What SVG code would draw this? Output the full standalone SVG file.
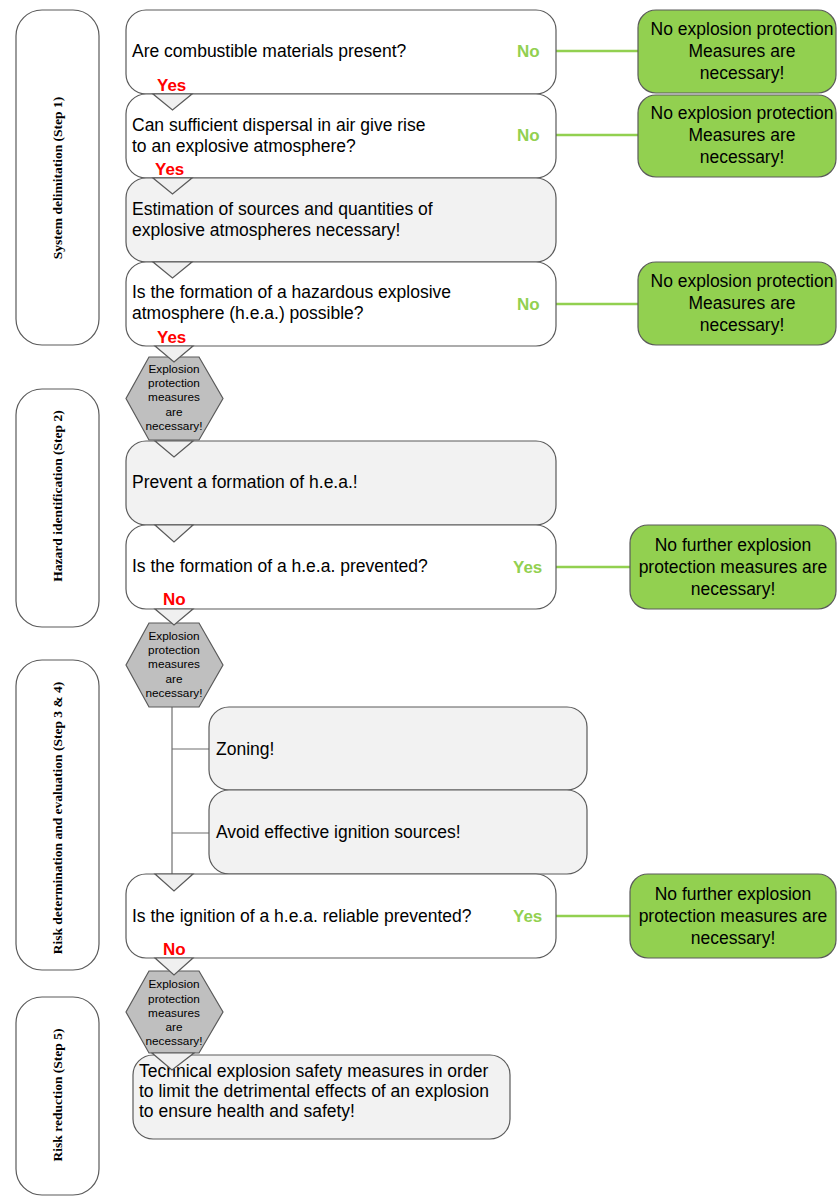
<svg xmlns="http://www.w3.org/2000/svg" width="837" height="1196" viewBox="0 0 837 1196">
<style>
.box{stroke:#5a5a5a;stroke-width:1.2;}
.w{fill:#ffffff;}
.g{fill:#f2f2f2;}
.grn{fill:#92d050;stroke:#5a5a5a;stroke-width:1.2;}
.side{fill:#ffffff;stroke:#5a5a5a;stroke-width:1.2;}
.hex{fill:#bfbfbf;stroke:#5a5a5a;stroke-width:1.2;}
.tri{fill:#f0f0f0;stroke:#5a5a5a;stroke-width:1.2;stroke-linejoin:miter;}
.t{font-family:"Liberation Sans",Arial,sans-serif;font-size:17.5px;fill:#000;}
.tc{font-family:"Liberation Sans",Arial,sans-serif;font-size:17.5px;fill:#000;text-anchor:middle;}
.hx{font-family:"Liberation Sans",Arial,sans-serif;font-size:11.8px;fill:#000;text-anchor:middle;}
.st{font-family:"Liberation Serif","Times New Roman",serif;font-size:13.5px;font-weight:bold;fill:#000;text-anchor:middle;}
.red{font-family:"Liberation Sans",Arial,sans-serif;font-size:17px;font-weight:bold;fill:#ff0000;}
.lg{font-family:"Liberation Sans",Arial,sans-serif;font-size:17px;font-weight:bold;fill:#92d050;}
.gl{stroke:#92d050;stroke-width:2.5;fill:none;}
.cl{stroke:#6e6e6e;stroke-width:1.2;fill:none;}
</style>

<!-- side labels -->
<g id="side1"><rect class="side" x="16" y="10" width="83" height="335" rx="26"/><text class="st" transform="translate(62,178) rotate(-90)">System delimitation (Step 1)</text></g>
<g id="side2"><rect class="side" x="16" y="389" width="83" height="238" rx="26"/><text class="st" transform="translate(62,496) rotate(-90)">Hazard identification (Step 2)</text></g>
<g id="side3"><rect class="side" x="16" y="660" width="83" height="310" rx="26"/><text class="st" transform="translate(62,818) rotate(-90)">Risk determination and evaluation (Step 3 &amp; 4)</text></g>
<g id="side4"><rect class="side" x="16" y="997" width="83" height="198" rx="26"/><text class="st" transform="translate(62,1095) rotate(-90)">Risk reduction (Step 5)</text></g>

<!-- connectors (lines) -->
<g id="connectors">
<line class="gl" x1="556" y1="51" x2="638" y2="51"/>
<line class="gl" x1="556" y1="135" x2="638" y2="135"/>
<line class="gl" x1="556" y1="304" x2="638" y2="304"/>
<line class="gl" x1="556" y1="567" x2="630" y2="567"/>
<line class="gl" x1="556" y1="916" x2="630" y2="916"/>
<line class="cl" x1="172" y1="707" x2="172" y2="874"/>
<line class="cl" x1="172" y1="749" x2="209" y2="749"/>
<line class="cl" x1="172" y1="833" x2="209" y2="833"/>
</g>

<!-- main nodes -->
<g id="q1"><rect class="box w" x="126" y="10" width="430" height="84" rx="20"/><text class="t" x="132" y="57">Are combustible materials present?</text></g>
<g id="q2"><rect class="box w" x="126" y="94" width="430" height="84" rx="20"/><text class="t" x="132" y="131">Can sufficient dispersal in air give rise</text><text class="t" x="132" y="152">to an explosive atmosphere?</text></g>
<g id="est"><rect class="box g" x="126" y="178" width="430" height="84" rx="20"/><text class="t" x="132" y="215">Estimation of sources and quantities of</text><text class="t" x="132" y="236">explosive atmospheres necessary!</text></g>
<g id="q3"><rect class="box w" x="126" y="262" width="430" height="84" rx="20"/><text class="t" x="132" y="298">Is the formation of a hazardous explosive</text><text class="t" x="132" y="319">atmosphere (h.e.a.) possible?</text></g>

<g id="hex1"><polygon class="hex" points="149,357 199,357 223,398.5 199,440 149,440 126,398.5"/>
<text class="hx" x="174" y="373">Explosion</text><text class="hx" x="174" y="387">protection</text><text class="hx" x="174" y="401">measures</text><text class="hx" x="174" y="416">are</text><text class="hx" x="174" y="430">necessary!</text></g>

<g id="prevent"><rect class="box g" x="126" y="441" width="430" height="84" rx="20"/><text class="t" x="132" y="488">Prevent a formation of h.e.a.!</text></g>
<g id="q4"><rect class="box w" x="126" y="525" width="430" height="84" rx="20"/><text class="t" x="132" y="572">Is the formation of a h.e.a. prevented?</text></g>

<g id="hex2"><polygon class="hex" points="149,623 199,623 223,665 199,707 149,707 126,665"/>
<text class="hx" x="174" y="640">Explosion</text><text class="hx" x="174" y="654">protection</text><text class="hx" x="174" y="668">measures</text><text class="hx" x="174" y="683">are</text><text class="hx" x="174" y="697">necessary!</text></g>

<g id="zoning"><rect class="box g" x="209" y="707" width="378" height="83" rx="20"/><text class="t" x="216" y="755">Zoning!</text></g>
<g id="avoid"><rect class="box g" x="209" y="790" width="378" height="84" rx="20"/><text class="t" x="216" y="838">Avoid effective ignition sources!</text></g>

<g id="q5"><rect class="box w" x="126" y="874" width="430" height="84" rx="20"/><text class="t" x="132" y="922">Is the ignition of a h.e.a. reliable prevented?</text></g>

<g id="hex3"><polygon class="hex" points="149,971 199,971 223,1012 199,1053 149,1053 126,1012"/>
<text class="hx" x="174" y="988">Explosion</text><text class="hx" x="174" y="1003">protection</text><text class="hx" x="174" y="1017">measures</text><text class="hx" x="174" y="1031">are</text><text class="hx" x="174" y="1045">necessary!</text></g>

<g id="final"><rect class="box g" x="133" y="1055" width="377" height="84" rx="20"/><text class="t" x="139" y="1077">Technical explosion safety measures in order</text><text class="t" x="139" y="1097">to limit the detrimental effects of an explosion</text><text class="t" x="139" y="1117">to ensure health and safety!</text></g>

<!-- green outcome nodes -->
<g id="out1"><rect class="grn" x="638" y="10" width="198" height="83" rx="18"/><text class="tc" x="742" y="35">No explosion protection</text><text class="tc" x="742" y="57">Measures are</text><text class="tc" x="742" y="79">necessary!</text></g>
<g id="out2"><rect class="grn" x="638" y="95" width="198" height="82" rx="18"/><text class="tc" x="742" y="119">No explosion protection</text><text class="tc" x="742" y="141">Measures are</text><text class="tc" x="742" y="163">necessary!</text></g>
<g id="out3"><rect class="grn" x="638" y="262" width="198" height="83" rx="18"/><text class="tc" x="742" y="287">No explosion protection</text><text class="tc" x="742" y="309">Measures are</text><text class="tc" x="742" y="331">necessary!</text></g>
<g id="out4"><rect class="grn" x="630" y="525" width="206" height="84" rx="18"/><text class="tc" x="733" y="551">No further explosion</text><text class="tc" x="733" y="573">protection measures are</text><text class="tc" x="733" y="595">necessary!</text></g>
<g id="out5"><rect class="grn" x="630" y="874" width="206" height="84" rx="18"/><text class="tc" x="733" y="900">No further explosion</text><text class="tc" x="733" y="922">protection measures are</text><text class="tc" x="733" y="944">necessary!</text></g>

<!-- flow arrow triangles and labels -->
<g id="arrows">
<polygon class="tri" points="153,94 192,94 172.5,110"/>
<polygon class="tri" points="153,178 192,178 172.5,194"/>
<polygon class="tri" points="153,262 192,262 172.5,278"/>
<polygon class="tri" points="155,346 193,346 174,362"/>
<polygon class="tri" points="155,441 193,441 174,457"/>
<polygon class="tri" points="155,525 193,525 174,542"/>
<polygon class="tri" points="155,609 193,609 174,625"/>
<polygon class="tri" points="155,874 193,874 174,891"/>
<polygon class="tri" points="155,958 193,958 174,975"/>
<polygon class="tri" points="152,1053 194,1053 172,1070"/>
<text class="red" x="157" y="91">Yes</text>
<text class="red" x="155" y="175">Yes</text>
<text class="red" x="157" y="343">Yes</text>
<text class="red" x="163" y="605">No</text>
<text class="red" x="163" y="955">No</text>
<text class="lg" x="517" y="57">No</text>
<text class="lg" x="517" y="141">No</text>
<text class="lg" x="517" y="310">No</text>
<text class="lg" x="513" y="573">Yes</text>
<text class="lg" x="513" y="922">Yes</text>
</g>
</svg>
